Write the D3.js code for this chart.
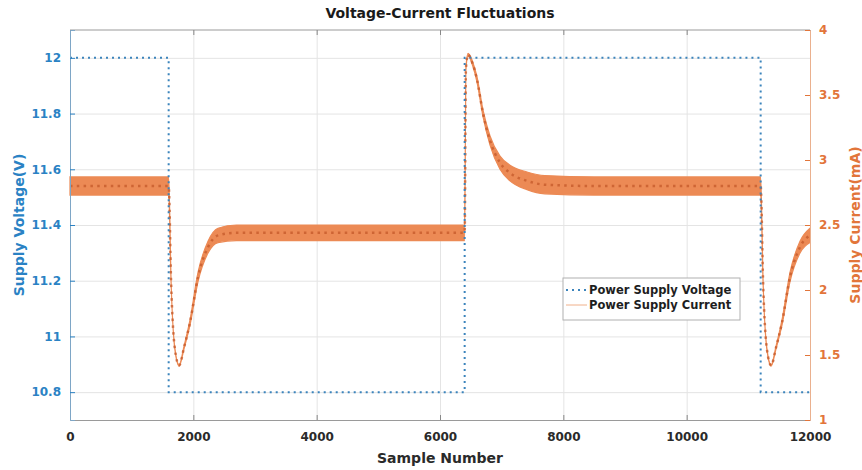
<!DOCTYPE html>
<html lang="en">
<head>
    <meta charset="UTF-8">
    <title>Voltage-Current Fluctuations</title>
    <script type="application/javascript" src="https://cdnjs.cloudflare.com/ajax/libs/d3/7.8.5/d3.min.js"></script>
    <style type="text/css">
        body { margin: 0; background: #fff; }
        text { font-family: "DejaVu Sans", sans-serif; font-weight: bold; }
        .grid line { stroke: #e4e4e4; stroke-width: 1; }
        .grid path { display: none; }
    </style>
</head>
<body>
<svg width="862" height="470"></svg>
<script type="application/javascript">
    // voltage is a square step between two levels
    var voltageSample = [0, 1600, 6400, 11200, 12000];
    var voltageValue = [12, 10.8, 12, 10.8, 10.8];

    // current: centre of the ripple band and its half height
    var currentSample = [0, 1600, 1640, 1700, 1770, 1850, 1946, 2076, 2238, 2400, 2700, 4000,
        6400, 6420, 6454, 6530, 6600, 6697, 6811, 6973, 7135, 7411, 7700, 8500,
        11200, 11240, 11300, 11370, 11450, 11546, 11676, 11838, 12000];
    var currentMid = [2.80, 2.80, 2.05, 1.55, 1.42, 1.56, 1.75, 2.10, 2.33, 2.42, 2.44, 2.44,
        2.44, 3.70, 3.81, 3.74, 3.62, 3.36, 3.15, 2.98, 2.90, 2.84, 2.81, 2.80,
        2.80, 2.05, 1.55, 1.42, 1.56, 1.75, 2.10, 2.33, 2.42];
    var currentRipple = [0.07, 0.07, 0.005, 0.005, 0.005, 0.01, 0.02, 0.035, 0.045, 0.055, 0.06, 0.06,
        0.06, 0.01, 0.01, 0.015, 0.02, 0.025, 0.035, 0.05, 0.06, 0.068, 0.07, 0.07,
        0.07, 0.005, 0.005, 0.005, 0.01, 0.02, 0.035, 0.045, 0.055];

    var xTicks = [0, 2000, 4000, 6000, 8000, 10000, 12000];
    var leftTicks = [10.8, 11, 11.2, 11.4, 11.6, 11.8, 12];
    var rightTicks = [1, 1.5, 2, 2.5, 3, 3.5, 4];
    var seriesNames = ['Power Supply Voltage', 'Power Supply Current'];

    var BLUE = '#2a82c4';
    var VOLT = '#3b84bc';
    var ORANGE = '#e2753a';
    var BAND = '#ec8a55';

    var svg = d3.select("svg");
    var margin = {top: 30, right: 52, bottom: 50, left: 70};
    var width = +svg.attr("width") - margin.left - margin.right;
    var height = +svg.attr("height") - margin.top - margin.bottom;

    var x = d3.scaleLinear().domain([0, 12000]).range([0, width]);
    var yL = d3.scaleLinear().domain([10.7, 12.1]).range([height, 0]);
    var yR = d3.scaleLinear().domain([1, 4]).range([height, 0]);

    var g = svg.append("g")
            .attr("transform", "translate(" + margin.left + "," + margin.top + ")");

    // grid
    g.append("g").attr("class", "grid")
            .attr("transform", "translate(0," + height + ")")
            .call(d3.axisBottom(x).tickValues(xTicks).tickSize(-height).tickFormat(""));
    g.append("g").attr("class", "grid")
            .call(d3.axisLeft(yL).tickValues(leftTicks).tickSize(-width).tickFormat(""));

    // current band
    var current = currentSample.map(function (s, i) {
        return {s: s, mid: currentMid[i], r: currentRipple[i]};
    });

    var band = d3.area()
            .x(function (d) { return x(d.s); })
            .y0(function (d) { return yR(d.mid - d.r); })
            .y1(function (d) { return yR(d.mid + d.r); })
            .curve(d3.curveMonotoneX);

    var midLine = d3.line()
            .x(function (d) { return x(d.s); })
            .y(function (d) { return yR(d.mid); })
            .curve(d3.curveMonotoneX);

    g.append("path")
            .datum(current)
            .attr("d", band)
            .attr("fill", BAND)
            .attr("stroke", BAND)
            .attr("stroke-width", 1.2);

    g.append("path")
            .datum(current)
            .attr("d", midLine)
            .attr("fill", "none")
            .attr("stroke", "#c4582a")
            .attr("stroke-width", 2.5)
            .attr("stroke-dasharray", "2.5,4.3")
            .attr("opacity", 0.75);

    // voltage
    var volt = voltageSample.map(function (s, i) { return {s: s, v: voltageValue[i]}; });
    g.append("path")
            .datum(volt)
            .attr("d", d3.line()
                    .x(function (d) { return x(d.s); })
                    .y(function (d) { return yL(d.v); })
                    .curve(d3.curveStepAfter))
            .attr("fill", "none")
            .attr("stroke", VOLT)
            .attr("stroke-width", 2)
            .attr("stroke-dasharray", "2,4");

    // box + axes
    g.append("line").attr("x1", 0).attr("x2", width).attr("y1", 0).attr("y2", 0)
            .attr("stroke", "#9a9a9a");

    var topAxis = g.append("g")
            .call(d3.axisTop(x).tickValues(xTicks).tickSize(-5).tickFormat(""));
    topAxis.select(".domain").remove();
    topAxis.selectAll("line").attr("stroke", "#888");

    var xAxis = g.append("g")
            .attr("transform", "translate(0," + height + ")")
            .call(d3.axisBottom(x).tickValues(xTicks).tickSize(-5).tickPadding(12)
                    .tickFormat(d3.format("d")));
    xAxis.select(".domain").attr("stroke", "#9a9a9a");
    xAxis.selectAll("line").attr("stroke", "#888");
    xAxis.selectAll("text").attr("font-size", 12).attr("fill", "#2a2a2a")
            .attr("font-family", "DejaVu Sans").attr("font-weight", "bold");

    var leftAxis = g.append("g")
            .call(d3.axisLeft(yL).tickValues(leftTicks).tickSize(-5).tickPadding(9)
                    .tickFormat(d3.format("")));
    leftAxis.select(".domain").attr("stroke", "#7ea6c6");
    leftAxis.selectAll("line").attr("stroke", BLUE);
    leftAxis.selectAll("text").attr("font-size", 12).attr("fill", BLUE)
            .attr("font-family", "DejaVu Sans").attr("font-weight", "bold");

    var rightAxis = g.append("g")
            .attr("transform", "translate(" + width + ",0)")
            .call(d3.axisRight(yR).tickValues(rightTicks).tickSize(-5).tickPadding(9)
                    .tickFormat(d3.format("")));
    rightAxis.select(".domain").attr("stroke", "#eab08e");
    rightAxis.selectAll("line").attr("stroke", ORANGE);
    rightAxis.selectAll("text").attr("font-size", 12).attr("fill", ORANGE)
            .attr("font-family", "DejaVu Sans").attr("font-weight", "bold");

    // titles
    g.append("text")
            .attr("x", width / 2)
            .attr("y", -12)
            .attr("text-anchor", "middle")
            .attr("font-size", 14)
            .attr("fill", "#1a1a1a")
            .text("Voltage-Current Fluctuations");

    g.append("text")
            .attr("x", width / 2)
            .attr("y", height + 43)
            .attr("text-anchor", "middle")
            .attr("font-size", 14)
            .attr("fill", "#2a2a2a")
            .text("Sample Number");

    g.append("text")
            .attr("transform", "translate(" + (-46) + "," + (height / 2) + ") rotate(-90)")
            .attr("text-anchor", "middle")
            .attr("font-size", 14)
            .attr("fill", BLUE)
            .text("Supply Voltage(V)");

    g.append("text")
            .attr("transform", "translate(" + (width + 50) + "," + (height / 2) + ") rotate(-90)")
            .attr("text-anchor", "middle")
            .attr("font-size", 14)
            .attr("fill", ORANGE)
            .text("Supply Current(mA)");

    // legend
    var lx = width - 247, ly = 248;
    var legend = g.append("g").attr("transform", "translate(" + lx + "," + ly + ")");
    legend.append("rect")
            .attr("width", 177).attr("height", 42)
            .attr("fill", "#fff").attr("stroke", "#b0b0b0");
    var item = legend.selectAll("g.item")
            .data(seriesNames)
            .enter().append("g")
            .attr("class", "item")
            .attr("transform", function (d, i) { return "translate(0," + (12 + i * 15) + ")"; });
    item.append("line")
            .attr("x1", 3).attr("x2", 24)
            .attr("stroke", function (d, i) { return i === 0 ? VOLT : "#f0b08a"; })
            .attr("stroke-width", function (d, i) { return i === 0 ? 1.8 : 1; })
            .attr("stroke-dasharray", function (d, i) { return i === 0 ? "2,4" : null; });
    item.append("text")
            .attr("x", 26)
            .attr("dy", "0.35em")
            .attr("font-size", 11.5)
            .attr("fill", "#1e1e1e")
            .text(function (d) { return d; });
</script>
</body>
</html>
